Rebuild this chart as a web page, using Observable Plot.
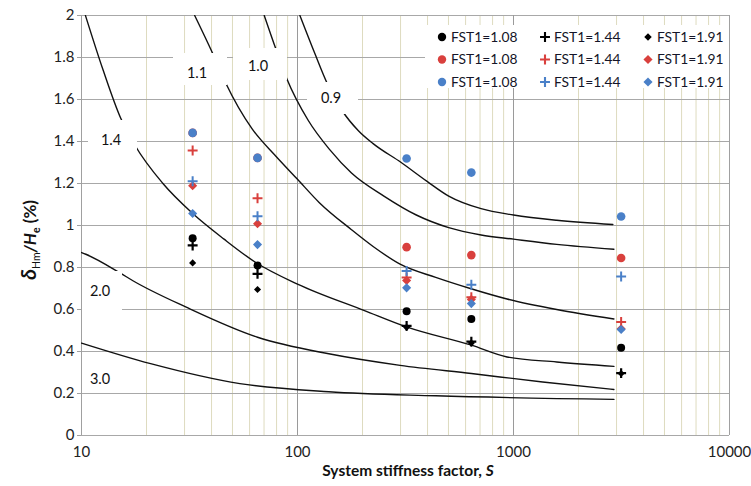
<!DOCTYPE html>
<html><head><meta charset="utf-8">
<script src="https://cdn.jsdelivr.net/npm/d3@7"></script>
<script src="https://cdn.jsdelivr.net/npm/@observablehq/plot@0.6"></script>
<style>body{margin:0;background:#fff;} svg{font-family:Lato, "Open Sans", sans-serif;}</style>
</head><body><div id="chart"></div>
<script>
// ---- data ----
const S = [32.7, 65.3, 320, 638, 3150];
const blackCircle  = [0.939, 0.810, 0.592, 0.555, 0.418];
const blackPlus    = [0.905, 0.770, 0.522, 0.447, 0.297];
const blackDiamond = [0.822, 0.695, 0.515, 0.440, 0.295];
const redCircle    = [1.441, 1.322, 0.897, 0.859, 0.845];
const redPlus      = [1.357, 1.130, 0.752, 0.658, 0.541];
const redDiamond   = [1.189, 1.008, 0.738, 0.648, 0.508];
const blueCircle   = [1.441, 1.322, 1.319, 1.252, 1.043];
const bluePlus     = [1.211, 1.044, 0.783, 0.718, 0.757];
const blueDiamond  = [1.057, 0.909, 0.703, 0.628, 0.505];

const legendLabels = ["FST1=1.08", "FST1=1.44", "FST1=1.91"];

// design curves
const c14S = [10.43, 12.59, 15.14, 17.70, 23.82, 32.73, 45.71, 63.83, 100, 204.2, 322.1, 638.3, 933.3, 1585, 2917];
const c14V = [2.0, 1.74, 1.514, 1.381, 1.2, 1.057, 0.935, 0.825, 0.721, 0.595, 0.516, 0.43, 0.374, 0.35, 0.329];
const c11S = [33.42, 40.46, 46.45, 61.66, 79.43, 100, 125.9, 177.8, 223.9, 298.5, 436.5, 631, 933.3, 1585, 2917];
const c11V = [2.0, 1.82, 1.68, 1.46, 1.33, 1.22, 1.11, 0.98, 0.9, 0.816, 0.753, 0.70, 0.65, 0.60, 0.555];
const c10S = [70.15, 79.43, 89.13, 112.2, 141.3, 177.8, 251.2, 354.8, 501.2, 707.9, 1000, 1585, 2917];
const c10V = [2.0, 1.84, 1.70, 1.50, 1.36, 1.25, 1.14, 1.05, 0.99, 0.955, 0.935, 0.91, 0.887];
const c09S = [102.6, 120.2, 136.8, 160.3, 191.9, 223.9, 302, 398.1, 501.2, 707.9, 1000, 1585, 2884];
const c09V = [2.0, 1.82, 1.68, 1.55, 1.45, 1.39, 1.30, 1.21, 1.14, 1.08, 1.05, 1.025, 1.005];
const c20S = [10, 10.47, 15.14, 17.3, 30.55, 65.31, 139.6, 298.5, 638.3, 1365, 2917];
const c20V = [0.871, 0.863, 0.773, 0.737, 0.611, 0.468, 0.389, 0.334, 0.295, 0.255, 0.219];
const c30S = [10, 20.89, 54.08, 139.6, 436.5, 2917];
const c30V = [0.44, 0.342, 0.247, 0.208, 0.189, 0.172];
const curveNames = ["1.4", "1.1", "1.0", "0.9", "2.0", "3.0"];

const xTicks = [10, 100, 1000, 10000];
const yTicks = [0, 0.2, 0.4, 0.6, 0.8, 1, 1.2, 1.4, 1.6, 1.8, 2];
const majorX = [100, 1000];
const minorX = [20,30,40,50,60,70,80,90,200,300,400,500,600,700,800,900,2000,3000,4000,5000,6000,7000,8000,9000];

// ---- build tables ----
const curves = [[c14S,c14V],[c11S,c11V],[c10S,c10V],[c09S,c09V],[c20S,c20V],[c30S,c30V]]
  .flatMap(([xs, ys], i) => xs.map((s, j) => ({S: s, v: ys[j], c: curveNames[i]})));
const pts = arr => S.map((s, i) => ({S: s, v: arr[i]}));

const BLACK = "#000000", RED = "#d9403d", BLUE = "#4a80c8";
const GRID = "#a8a8a8", MINOR = "#dedbbf";

const plot = Plot.plot({
  width: 751, height: 486,
  marginLeft: 81, marginRight: 22, marginTop: 15, marginBottom: 51,
  style: {fontFamily: "Lato, sans-serif", background: "#fff", overflow: "visible"},
  x: {type: "log", domain: [10, 10000]},
  y: {domain: [0, 2]},
  marks: [
    Plot.ruleX(minorX, {stroke: MINOR, strokeWidth: 1}),
    Plot.ruleY(yTicks, {stroke: GRID, strokeWidth: 1}),
    Plot.ruleX(majorX, {stroke: "#9a9a9a", strokeWidth: 1}),
    Plot.ruleX([10, 10000], {stroke: "#a0a0a0", strokeWidth: 1}),
    Plot.axisY({ticks: yTicks, tickFormat: d => String(d), tickSize: 4, tickPadding: 3, stroke: "#a0a0a0", fontSize: 15, fill: "#222", label: null}),
    Plot.axisX({ticks: xTicks, tickFormat: d => String(d), tickSize: 0, tickPadding: 11, fontSize: 15, fill: "#222", label: null}),
    Plot.line(curves, {x: "S", y: "v", z: "c", stroke: "#111", strokeWidth: 1.4, curve: "monotone-x", clip: true}),
    Plot.dot(pts(blackCircle),  {x: "S", y: "v", symbol: "circle", fill: BLACK, r: 4}),
    Plot.dot(pts(blackPlus),    {x: "S", y: "v", symbol: "plus", stroke: BLACK, strokeWidth: 2.2, r: 3.3}),
    Plot.dot(pts(blackDiamond), {x: "S", y: "v", symbol: "diamond2", fill: BLACK, r: 3.2}),
    Plot.dot(pts(redCircle),    {x: "S", y: "v", symbol: "circle", fill: RED, r: 4.3}),
    Plot.dot(pts(redPlus),      {x: "S", y: "v", symbol: "plus", stroke: RED, strokeWidth: 2, r: 3.3}),
    Plot.dot(pts(redDiamond),   {x: "S", y: "v", symbol: "diamond2", fill: RED, r: 4.1}),
    Plot.dot(pts(blueCircle),   {x: "S", y: "v", symbol: "circle", fill: BLUE, r: 4.3}),
    Plot.dot(pts(bluePlus),     {x: "S", y: "v", symbol: "plus", stroke: BLUE, strokeWidth: 2, r: 3.3}),
    Plot.dot(pts(blueDiamond),  {x: "S", y: "v", symbol: "diamond2", fill: BLUE, r: 4.1})
  ]
});
document.getElementById("chart").appendChild(plot);

const svg = d3.select(plot);
// curve labels with white boxes (Excel data labels)
const labelBoxes = [
  {t: "1.4", x0: 88, x1: 137, y0: 120, y1: 158, tx: 111, ty: 140},
  {t: "1.1", x0: 173, x1: 227, y0: 53, y1: 85, tx: 197, ty: 73},
  {t: "1.0", x0: 233, x1: 287, y0: 48, y1: 80, tx: 258, ty: 66},
  {t: "0.9", x0: 307, x1: 358, y0: 82, y1: 114, tx: 331, ty: 98},
  {t: "2.0", x0: 82, x1: 122, y0: 271, y1: 311, tx: 100, ty: 291},
  {t: "3.0", x0: 82, x1: 120, y0: 364, y1: 391, tx: 100, ty: 379}
];
const lg = svg.append("g");
for (const b of labelBoxes) {
  lg.append("rect").attr("x", b.x0).attr("y", b.y0).attr("width", b.x1 - b.x0).attr("height", b.y1 - b.y0).attr("fill", "#fff");
  lg.append("text").attr("x", b.tx).attr("y", b.ty).attr("dy", "0.35em").attr("text-anchor", "middle")
    .attr("font-size", 14.5).attr("fill", "#111").text(b.t);
}

// legend
const leg = svg.append("g");
leg.append("rect").attr("x", 425).attr("y", 25).attr("width", 304).attr("height", 63).attr("fill", "#fff");
const rowsY = [37, 59.5, 82];
const colMarkX = [442, 545, 648];
const colors = [BLACK, RED, BLUE];
const symbolsUsed = [d3.symbolCircle, d3.symbolPlus, d3.symbolDiamond2];
colors.forEach((col, r) => {
  symbolsUsed.forEach((sym, c) => {
    const isPlus = c === 1;
    const size = c === 0 ? Math.PI * 4.2 * 4.2 : c === 1 ? Math.PI * 3.3 * 3.3 : Math.PI * (r === 0 ? 3.4 : 4.1) ** 2;
    const p = leg.append("path").attr("d", d3.symbol(sym, size)())
      .attr("transform", `translate(${colMarkX[c]},${rowsY[r]})`);
    if (isPlus) p.attr("fill", "none").attr("stroke", col).attr("stroke-width", 2.1);
    else p.attr("fill", col);
    leg.append("text").attr("x", colMarkX[c] + 9).attr("y", rowsY[r]).attr("dy", "0.35em")
      .attr("text-anchor", "start")
      .attr("font-size", 13.8).attr("fill", "#151528").text(legendLabels[c]);
  });
});

// axis titles
svg.append("text").attr("x", 408).attr("y", 476).attr("text-anchor", "middle")
  .attr("font-size", 15.5).attr("font-weight", "bold").attr("fill", "#111")
  .call(t => { t.append("tspan").text("System stiffness factor, "); t.append("tspan").attr("font-style", "italic").text("S"); });

const yl = svg.append("text").attr("transform", "translate(36,240) rotate(-90)").attr("text-anchor", "middle")
  .attr("font-size", 17).attr("font-weight", "bold").attr("fill", "#111");
yl.append("tspan").attr("font-style", "italic").attr("font-size", 21).text("δ");
yl.append("tspan").attr("font-size", 10.5).attr("font-weight", "normal").attr("dy", 4).text("Hm");
yl.append("tspan").attr("font-style", "italic").attr("dy", -4).text("/H");
yl.append("tspan").attr("font-size", 10.5).attr("dy", 4).text("e");
yl.append("tspan").attr("dy", -4).text(" (%)");
</script></body></html>
